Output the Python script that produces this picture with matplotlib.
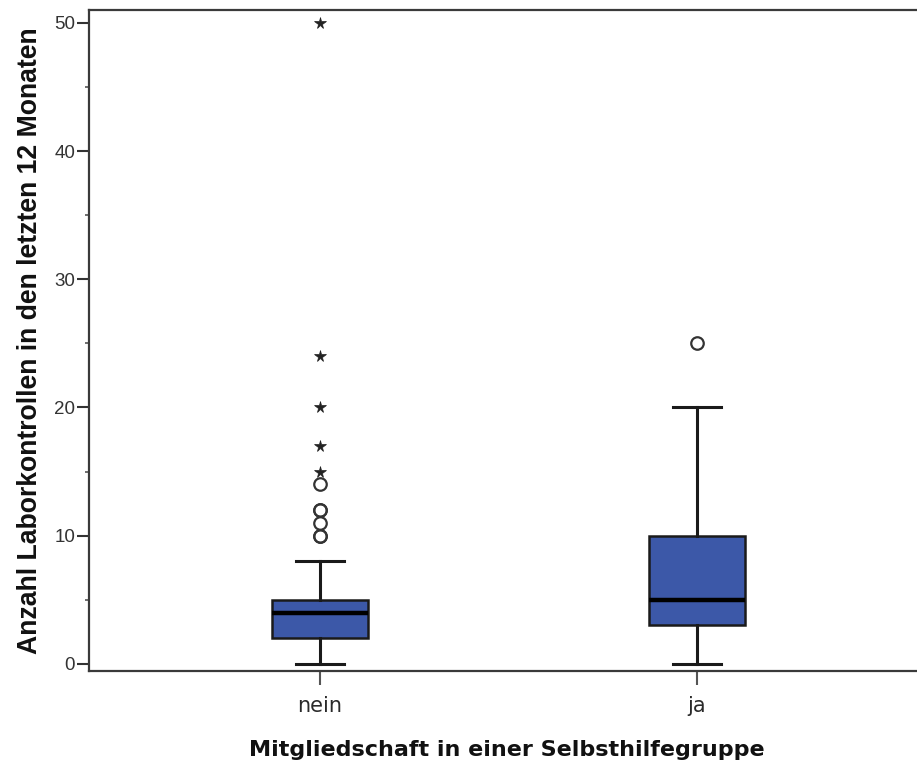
import matplotlib
matplotlib.use("Agg")
import matplotlib.pyplot as plt
from matplotlib.ticker import MultipleLocator

categories = ["nein", "ja"]
whisker_low = [0, 0]
q1 = [2, 3]
median = [4, 5]
q3 = [5, 10]
whisker_high = [8, 20]
outliers_circle = [[10, 10, 11, 12, 12, 14], [25]]
outliers_star = [[15, 17, 20, 24, 50], []]

x_label = "Mitgliedschaft in einer Selbsthilfegruppe"
y_label = "Anzahl Laborkontrollen in den letzten 12 Monaten"
y_ticks = [0, 10, 20, 30, 40, 50]

box_color = "#3C58A8"

fig = plt.figure(figsize=(9.17, 7.67), dpi=100)
ax = fig.add_axes([89 / 917, (767 - 671) / 767, (925 - 89) / 917, (671 - 10) / 767])

positions = list(range(len(categories)))
stats = []
for i, c in enumerate(categories):
    stats.append(dict(label=c, whislo=whisker_low[i], q1=q1[i], med=median[i],
                      q3=q3[i], whishi=whisker_high[i], fliers=[]))

ax.bxp(stats, positions=positions, widths=0.252, patch_artist=True, showfliers=False,
       boxprops=dict(facecolor=box_color, edgecolor="#1a1a1a", linewidth=1.8),
       medianprops=dict(color="black", linewidth=3.2),
       whiskerprops=dict(color="#1a1a1a", linewidth=2.2),
       capprops=dict(color="#1a1a1a", linewidth=2.2),
       capwidths=0.126, zorder=3)

for i in positions:
    if outliers_circle[i]:
        ax.plot([i] * len(outliers_circle[i]), outliers_circle[i], linestyle="none",
                marker="o", markersize=9, markerfacecolor="none",
                markeredgecolor="#333333", markeredgewidth=1.6, zorder=4)
    if outliers_star[i]:
        ax.plot([i] * len(outliers_star[i]), outliers_star[i], linestyle="none",
                marker="*", markersize=8.5, color="#222222", markeredgewidth=0.5, zorder=4)

ax.set_xlim(-231 / 377, (925 - 320) / 377)
ax.set_ylim(-0.55, 51.0)
ax.set_yticks(y_ticks)
ax.yaxis.set_minor_locator(MultipleLocator(5))
ax.set_xticks(positions)
ax.set_xticklabels(categories, fontfamily="DejaVu Sans", fontsize=15, color="#2a2a2a")
for lab in ax.get_yticklabels():
    lab.set_fontfamily("Liberation Sans")
    lab.set_fontsize(13.5)
    lab.set_color("#333333")

ax.tick_params(axis="y", which="major", direction="out", length=9, width=1.5,
               color="#333333", pad=1)
ax.tick_params(axis="y", which="minor", direction="out", length=3, width=1.2,
               color="#555555")
ax.tick_params(axis="x", which="major", direction="out", length=10, width=1.5,
               color="#555555", pad=8)

for s in ax.spines.values():
    s.set_linewidth(1.6)
    s.set_color("#3a3a3a")

ax.set_xlabel(x_label, fontfamily="DejaVu Sans", fontweight="bold", fontsize=16,
              color="#111111", labelpad=17)
ax.set_ylabel(y_label, fontfamily="Liberation Sans", fontweight="bold", fontsize=19.2,
              color="#111111", labelpad=8)

fig.savefig("out.png", dpi=100)
